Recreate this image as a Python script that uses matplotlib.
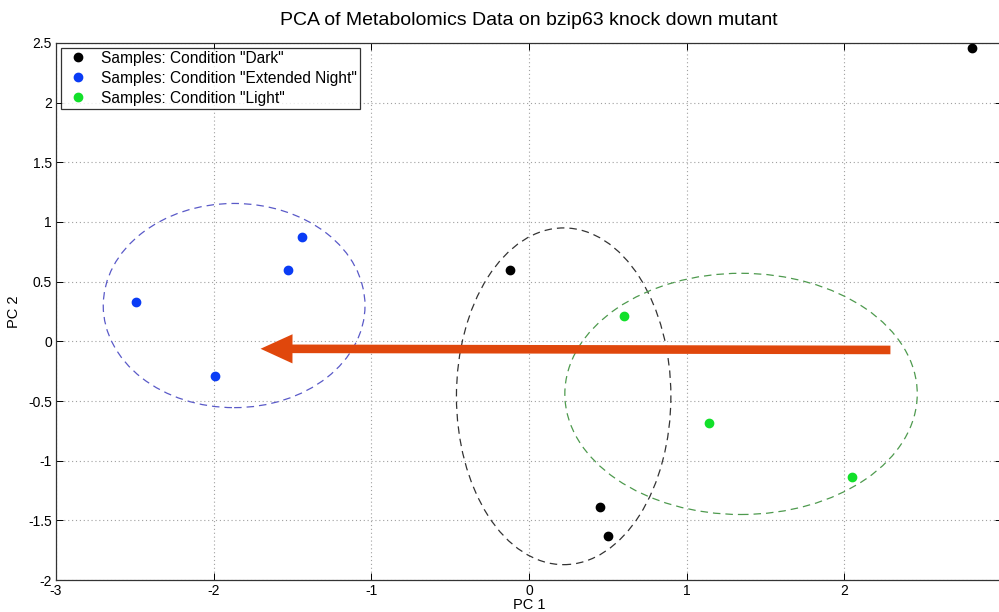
import matplotlib
matplotlib.use("Agg")
import matplotlib.pyplot as plt
from matplotlib.patches import Ellipse, FancyArrowPatch
from matplotlib.ticker import FuncFormatter

plt.rcParams['font.family'] = ['Liberation Sans', 'DejaVu Sans']

# Data
dark_x = [2.81, -0.12, 0.45, 0.50]
dark_y = [2.46, 0.60, -1.39, -1.63]
night_x = [-1.44, -1.53, -2.49, -1.99]
night_y = [0.87, 0.60, 0.33, -0.29]
light_x = [0.60, 1.14, 2.05]
light_y = [0.21, -0.68, -1.14]

# Ellipses: center x, center y, width, height
ell_night = (-1.87, 0.30, 1.66, 1.71)
ell_dark = (0.22, -0.46, 1.36, 2.82)
ell_light = (1.345, -0.44, 2.235, 2.02)

arrow_start = (2.31, -0.072)
arrow_end = (-1.72, -0.062)

labels = ['Samples: Condition "Dark"', 'Samples: Condition "Extended Night"',
          'Samples: Condition "Light"']

fig = plt.figure(figsize=(9.99, 6.12), dpi=100)
ax = fig.add_axes([0.056, 0.052, 0.947, 0.878])

c_dark = '#000000'
c_night = '#0a3cf5'
c_light = '#12e02a'

ax.plot(dark_x, dark_y, 'o', color=c_dark, ms=6, label=labels[0], zorder=5)
ax.plot(night_x, night_y, 'o', color=c_night, ms=6, label=labels[1], zorder=5)
ax.plot(light_x, light_y, 'o', color=c_light, ms=6, label=labels[2], zorder=5)

for (cx, cy, w, h), col in [(ell_night, '#5a5ac8'), (ell_dark, '#333333'), (ell_light, '#4e9a4e')]:
    ax.add_patch(Ellipse((cx, cy), w, h, fill=False, edgecolor=col, lw=0.9,
                         linestyle=(0, (6, 4)), zorder=3))

arr = FancyArrowPatch(arrow_start, arrow_end,
                      arrowstyle='simple,head_length=23,head_width=21,tail_width=6.2',
                      mutation_scale=1, color='#e0470c', lw=0, zorder=6)
ax.add_patch(arr)

ax.set_xlim(-3, 3)
ax.set_ylim(-2, 2.5)
ax.set_xticks([-3, -2, -1, 0, 1, 2])
ax.set_yticks([-2, -1.5, -1, -0.5, 0, 0.5, 1, 1.5, 2, 2.5])
fmt = FuncFormatter(lambda v, p: '%g' % v)
ax.xaxis.set_major_formatter(fmt)
ax.yaxis.set_major_formatter(fmt)
ax.tick_params(direction='in', length=5, labelsize=10, top=True, right=True,
               width=0.7, pad=3)
ax.grid(True, color='#a0a0a0', linestyle=(0, (1, 2.5)), lw=0.8)
ax.set_axisbelow(True)
for s in ax.spines.values():
    s.set_linewidth(0.9)
    s.set_color('#333333')

ax.set_xlabel('PC 1', fontsize=10.5, labelpad=0)
ax.set_ylabel('PC 2', fontsize=10.5, labelpad=5)
ax.set_title('PCA of Metabolomics Data on bzip63 knock down mutant', fontsize=14, pad=13)

leg = ax.legend(loc='upper left', fontsize=11.2, frameon=True, fancybox=False,
                edgecolor='black', borderaxespad=0.3, handletextpad=0.5,
                handlelength=1.9, labelspacing=0.32, borderpad=0.2)
leg.get_frame().set_linewidth(0.9)

fig.savefig('out.png', dpi=100)
